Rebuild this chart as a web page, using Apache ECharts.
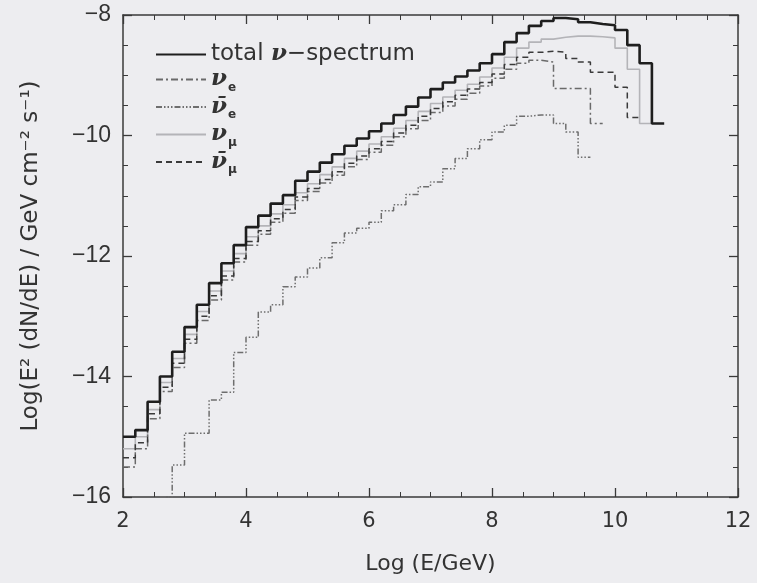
<!DOCTYPE html>
<html><head><meta charset="utf-8">
<script src="https://cdn.jsdelivr.net/npm/echarts@6/dist/echarts.min.js"></script>
<style>html,body{margin:0;padding:0;background:#ededf0}#c{width:757px;height:583px}</style>
</head><body><div id="c"></div>
<script>
// Bin edges of the histogram (Log E/GeV)
const binEdges = [2.0,2.2,2.4,2.6,2.8,3.0,3.2,3.4,3.6,3.8,4.0,4.2,4.4,4.6,4.8,5.0,5.2,5.4,5.6,5.8,6.0,6.2,6.4,6.6,6.8,7.0,7.2,7.4,7.6,7.8,8.0,8.2,8.4,8.6,8.8,9.0,9.2,9.4,9.6,9.8,10.0,10.2,10.4,10.6,10.8];
// Bin values, Log(E^2 dN/dE)
const totalSpec = [-15.00,-14.89,-14.42,-14.00,-13.59,-13.18,-12.81,-12.45,-12.12,-11.82,-11.52,-11.33,-11.13,-10.99,-10.75,-10.60,-10.45,-10.31,-10.17,-10.05,-9.93,-9.80,-9.66,-9.52,-9.37,-9.23,-9.12,-9.02,-8.92,-8.80,-8.65,-8.45,-8.30,-8.18,-8.10,-8.05,-8.07,-8.12,-8.15,-8.17,-8.25,-8.50,-8.80,-9.80];
const nuE = [-15.50,-15.20,-14.70,-14.25,-13.85,-13.45,-13.07,-12.73,-12.40,-12.10,-11.82,-11.64,-11.44,-11.29,-11.08,-10.93,-10.79,-10.66,-10.52,-10.40,-10.28,-10.16,-10.02,-9.89,-9.75,-9.62,-9.51,-9.40,-9.30,-9.18,-9.05,-8.90,-8.80,-8.75,-8.78,-9.22,-9.22,-9.22,-9.80];
const nuEBar = [null,null,null,-16.00,-15.47,-14.94,-14.94,-14.39,-14.26,-13.60,-13.35,-12.93,-12.81,-12.51,-12.35,-12.20,-12.03,-11.78,-11.62,-11.54,-11.44,-11.25,-11.15,-10.98,-10.85,-10.77,-10.55,-10.38,-10.22,-10.07,-9.94,-9.83,-9.68,-9.66,-9.66,-9.80,-9.94,-10.36];
const nuMu = [-15.20,-15.00,-14.55,-14.10,-13.70,-13.30,-12.92,-12.58,-12.25,-11.96,-11.68,-11.50,-11.30,-11.15,-10.95,-10.80,-10.65,-10.52,-10.38,-10.26,-10.14,-10.02,-9.88,-9.75,-9.60,-9.47,-9.36,-9.25,-9.15,-9.03,-8.88,-8.70,-8.55,-8.45,-8.40,-8.37,-8.35,-8.35,-8.36,-8.38,-8.55,-8.90,-9.80];
const nuMuBar = [-15.35,-15.10,-14.62,-14.18,-13.78,-13.38,-13.00,-12.66,-12.33,-12.04,-11.76,-11.58,-11.38,-11.23,-11.02,-10.88,-10.73,-10.60,-10.46,-10.34,-10.22,-10.10,-9.96,-9.83,-9.68,-9.55,-9.44,-9.33,-9.23,-9.12,-8.98,-8.82,-8.70,-8.62,-8.60,-8.62,-8.72,-8.78,-8.95,-8.95,-9.20,-9.70];
const xTicks = [2,4,6,8,10,12];
const yTicks = [-16,-14,-12,-10,-8];

function steps(vals){
  const d = vals.map((v,i)=>[binEdges[i], v]);
  d.push([binEdges[vals.length], vals[vals.length-1]]);
  return d;
}
const txt = '#333';
const axisCommon = {
  axisLine:{show:true,lineStyle:{color:'#3a3a3a',width:1.5}},
  axisTick:{show:true,inside:true,length:9,lineStyle:{color:'#3a3a3a',width:1.3}},
  minorTick:{show:true,splitNumber:4,length:5,lineStyle:{color:'#3a3a3a',width:1}},
  splitLine:{show:false}
};
const names = {
  total:'{t|total }{nu|ν}{t|−spectrum}',
  nue:'{nu|ν}{sub|e}',
  nuebar:'{nu|ν\u0304}{sub|e}',
  numu:'{nu|ν}{sub|μ}',
  numubar:'{nu|ν\u0304}{sub|μ}'
};
const chart = echarts.init(document.getElementById('c'), null, {renderer:'canvas'});
chart.setOption({
  backgroundColor:'#ededf0',
  animation:false,
  grid:{left:123,right:19,top:15,bottom:86},
  legend:{
    orient:'vertical', left:150, top:38, itemWidth:50, itemHeight:14, itemGap:2,
    data:['total','nue','nuebar','numu','numubar'],
    formatter:n=>names[n],
    itemStyle:{opacity:0},
    textStyle:{
      color:txt,
      rich:{
        t:{fontSize:23,fontFamily:'DejaVu Sans',color:txt,lineHeight:28},
        nu:{fontSize:23,fontFamily:'DejaVu Serif',fontStyle:'italic',fontWeight:'bold',color:txt,lineHeight:28},
        sub:{fontSize:12,fontFamily:'DejaVu Sans',fontWeight:'bold',color:txt,verticalAlign:'bottom',lineHeight:12,padding:[0,0,0,1]}
      }
    }
  },
  xAxis:[
    Object.assign({type:'value',min:2,max:12,interval:2,position:'bottom',
      name:'Log (E/GeV)',nameLocation:'middle',nameGap:56,
      nameTextStyle:{fontSize:22,color:txt,fontFamily:'DejaVu Sans'},
      axisLabel:{fontSize:21,color:txt,margin:14,fontFamily:'DejaVu Sans',
        formatter:v=>xTicks.includes(v)?String(v):''}},axisCommon),
    Object.assign({type:'value',min:2,max:12,interval:2,position:'top',axisLabel:{show:false}},axisCommon)
  ],
  yAxis:[
    Object.assign({type:'value',min:-16,max:-8,interval:2,position:'left',
      name:'Log(E² (dN/dE) / GeV cm⁻² s⁻¹)',nameLocation:'middle',nameGap:80,
      nameTextStyle:{fontSize:23,color:txt,fontFamily:'DejaVu Sans'},
      axisLabel:{fontSize:23,color:txt,margin:12,fontFamily:'Liberation Sans',
        formatter:v=>yTicks.includes(v)?String(v).replace('-','−'):''}},axisCommon),
    Object.assign({type:'value',min:-16,max:-8,interval:2,position:'right',axisLabel:{show:false}},axisCommon)
  ],
  series:[
    {name:'total',type:'line',step:'end',symbol:'none',data:steps(totalSpec),
      lineStyle:{color:'#1e1e1e',width:2.6},itemStyle:{color:'#1e1e1e'},z:5},
    {name:'nue',type:'line',step:'end',symbol:'none',data:steps(nuE),
      lineStyle:{color:'#6a6a6a',width:1.5,type:[7,3,2,3]},itemStyle:{color:'#6a6a6a'},z:3},
    {name:'nuebar',type:'line',step:'end',symbol:'none',data:steps(nuEBar),
      lineStyle:{color:'#6e6e6e',width:1.5,type:[6,2,1.5,2,1.5,2,1.5,2]},itemStyle:{color:'#6e6e6e'},z:3},
    {name:'numu',type:'line',step:'end',symbol:'none',data:steps(nuMu),
      lineStyle:{color:'#b4b4b8',width:1.6},itemStyle:{color:'#b4b4b8'},z:2},
    {name:'numubar',type:'line',step:'end',symbol:'none',data:steps(nuMuBar),
      lineStyle:{color:'#3a3a3a',width:1.5,type:[6,4]},itemStyle:{color:'#3a3a3a'},z:4}
  ]
});
</script></body></html>
